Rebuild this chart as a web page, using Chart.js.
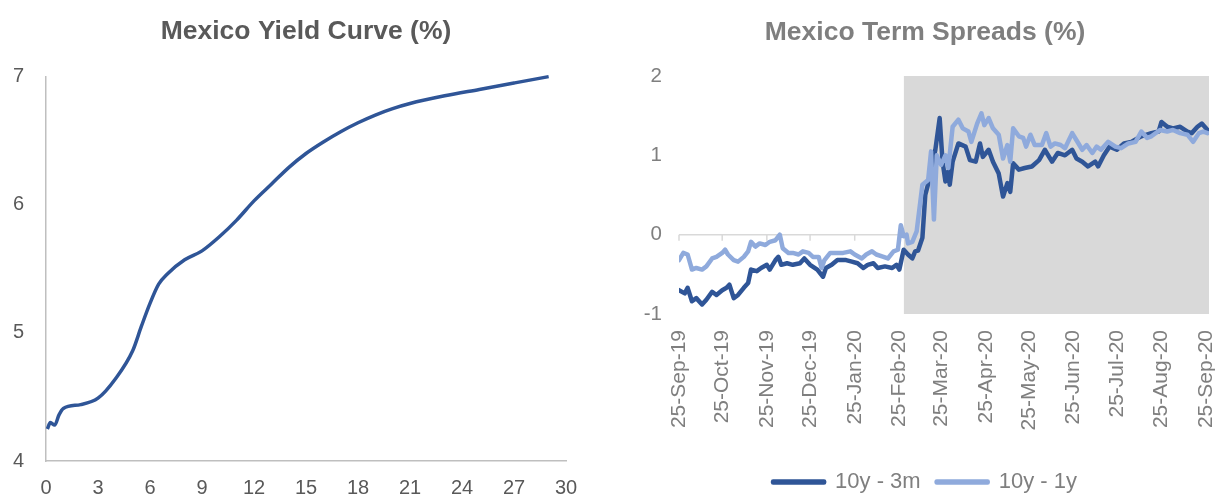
<!DOCTYPE html>
<html><head><meta charset="utf-8">
<script src="https://cdn.jsdelivr.net/npm/chart.js@4.4.1/dist/chart.umd.min.js"></script>
<style>
html,body{margin:0;padding:0;background:#fff;width:1215px;height:497px;overflow:hidden;}
#left{position:absolute;left:0;top:0;width:604px;height:497px;}
#right{position:absolute;left:641px;top:0;width:574px;height:497px;}
canvas{display:block;}
</style></head><body>
<div id="left"><canvas id="c1" width="604" height="497"></canvas></div>
<div id="right"><canvas id="c2" width="574" height="497"></canvas></div>
<script>
// ---- Left chart: Mexico yield curve ----
const tenors = [0.08,0.25,0.5,0.75,1,2,3,4,5,5.5,6,6.5,7,8,9,10,11,12,13,14,15,16,17,18,19,20,21,23,25,27,29];
const yields = [4.25,4.30,4.28,4.36,4.41,4.44,4.49,4.64,4.86,5.05,5.23,5.38,5.46,5.57,5.64,5.75,5.88,6.03,6.16,6.29,6.40,6.49,6.57,6.64,6.70,6.75,6.79,6.85,6.90,6.95,7.00];

// ---- Right chart: term spreads (x = days since 25-Sep-19) ----
const tickDays = [0,30,61,91,122,153,182,213,243,274,304,335,366];
const tickLabels = ['25-Sep-19','25-Oct-19','25-Nov-19','25-Dec-19','25-Jan-20','25-Feb-20','25-Mar-20','25-Apr-20','25-May-20','25-Jun-20','25-Jul-20','25-Aug-20','25-Sep-20'];

const spread3mDays = [0,4,6,9,12,16,19,23,26,30,33,35,38,41,45,48,50,54,57,61,63,67,69,71,75,79,84,87,91,96,100,102,106,110,113,116,120,124,128,131,135,138,143,148,151,153,156,159,162,164,166,169,171,174,178,181,183,185,187,188,190,194,199,202,206,209,211,215,218,222,225,228,230,232,236,240,245,250,254,259,263,268,273,276,280,284,289,291,295,299,304,309,314,321,328,333,335,339,343,348,353,356,360,363,367];
const spread3m = [-0.70,-0.74,-0.67,-0.84,-0.80,-0.88,-0.82,-0.72,-0.76,-0.70,-0.67,-0.63,-0.80,-0.76,-0.67,-0.61,-0.44,-0.46,-0.42,-0.38,-0.44,-0.32,-0.28,-0.38,-0.36,-0.38,-0.36,-0.30,-0.38,-0.44,-0.53,-0.42,-0.38,-0.32,-0.32,-0.32,-0.34,-0.36,-0.42,-0.38,-0.36,-0.42,-0.40,-0.42,-0.38,-0.44,-0.19,-0.25,-0.30,-0.21,-0.20,-0.04,0.50,0.71,1.07,1.47,0.92,0.67,0.80,0.63,0.92,1.15,1.11,0.94,0.92,1.15,0.98,1.07,0.92,0.77,0.48,0.65,0.54,0.90,0.82,0.84,0.86,0.94,1.07,0.92,1.03,1.00,1.07,0.96,0.92,0.86,0.92,0.86,1.00,1.11,1.07,1.15,1.17,1.24,1.28,1.30,1.42,1.36,1.34,1.36,1.30,1.28,1.36,1.40,1.32];

const spread1yDays = [0,3,6,9,12,16,19,23,26,30,32,34,38,41,45,48,50,53,56,60,63,67,70,72,76,79,83,86,90,93,97,99,101,105,110,114,119,122,127,130,134,137,142,145,149,152,154,156,158,159,162,165,169,173,175,177,179,182,185,187,190,194,197,201,203,207,210,212,215,218,222,225,228,230,232,236,239,241,244,247,252,255,258,261,265,268,273,276,280,283,287,290,293,298,303,307,312,317,321,325,328,334,339,343,348,353,357,361,364,367];
const spread1y = [-0.32,-0.23,-0.25,-0.44,-0.42,-0.44,-0.40,-0.30,-0.28,-0.23,-0.19,-0.25,-0.32,-0.34,-0.28,-0.21,-0.09,-0.15,-0.11,-0.13,-0.09,-0.07,0.00,-0.17,-0.23,-0.23,-0.25,-0.21,-0.23,-0.28,-0.28,-0.42,-0.32,-0.23,-0.23,-0.23,-0.21,-0.25,-0.30,-0.25,-0.21,-0.25,-0.28,-0.30,-0.21,-0.19,0.12,-0.02,0.00,-0.11,-0.09,0.04,0.63,0.69,1.05,0.19,1.00,0.88,1.00,0.84,1.36,1.45,1.34,1.30,1.17,1.40,1.53,1.38,1.47,1.34,1.26,0.96,1.13,0.92,1.34,1.24,1.22,1.11,1.26,1.13,1.13,1.28,1.11,1.15,1.13,1.09,1.28,1.19,1.07,1.13,1.03,1.11,1.07,1.17,1.11,1.09,1.15,1.17,1.30,1.22,1.24,1.32,1.30,1.32,1.28,1.26,1.17,1.28,1.30,1.28];

const shadeDays = [156, 368];
const shadeTop = 2;
const shadeBottom = -1;

const FONT = "'Liberation Sans', Arial, sans-serif";
Chart.defaults.font.family = FONT;

const pts = (xs, ys) => xs.map((x, i) => ({x: x, y: ys[i]}));

new Chart(document.getElementById('c1'), {
  type: 'line',
  data: { datasets: [{
    label: 'Yield', data: pts(tenors, yields),
    borderColor: '#2f5597', borderWidth: 3.5, pointRadius: 0,
    cubicInterpolationMode: 'monotone', fill: false, clip: 6
  }]},
  options: {
    responsive: false, animation: false, events: [],
    layout: { padding: { left: 0, right: 38, top: 0, bottom: 0 } },
    plugins: {
      legend: { display: false }, tooltip: { enabled: false },
      title: { display: true, fullSize: false, text: 'Mexico Yield Curve (%)', color: '#595959',
        font: { family: FONT, size: 26.5, weight: 'bold' }, padding: { top: 15.5, bottom: 29.3 } }
    },
    scales: {
      x: { type: 'linear', min: 0, max: 30,
        ticks: { stepSize: 3, color: '#595959', font: { size: 20 }, padding: 15, maxRotation: 0 },
        grid: { display: false, drawTicks: false },
        border: { display: true, color: '#bfbfbf', width: 1.5 },
        afterFit: s => { s.height = 36; s.paddingLeft = 0; s.paddingRight = 0; } },
      y: { min: 4, max: 7,
        ticks: { stepSize: 1, color: '#595959', font: { size: 20 }, padding: 22 },
        grid: { display: false, drawTicks: false },
        border: { display: true, color: '#bfbfbf', width: 1.5 },
        afterFit: s => { s.width = 46; s.paddingTop = 0; s.paddingBottom = 0; } }
    }
  }
});

const zeroTicks = {
  id: 'zeroTicks',
  beforeLayout(chart) {
    const lg = chart.legend;
    if (lg && !lg._fixedFit) {
      const origFit = lg.fit.bind(lg);
      lg.fit = function () { origFit(); this.height = 42; };
      lg._fixedFit = true;
    }
  },
  beforeDatasetsDraw(chart) {
    const ctx = chart.ctx, xs = chart.scales.x, ys = chart.scales.y;
    const y0 = ys.getPixelForValue(0);
    ctx.save();
    ctx.strokeStyle = '#d9d9d9'; ctx.lineWidth = 1.5;
    xs.ticks.forEach(t => {
      const px = xs.getPixelForValue(t.value);
      ctx.beginPath(); ctx.moveTo(px, y0); ctx.lineTo(px, y0 + 6); ctx.stroke();
    });
    ctx.restore();
  }
};

new Chart(document.getElementById('c2'), {
  type: 'line',
  data: { datasets: [
    { label: '10y - 3m', data: pts(spread3mDays, spread3m), borderColor: '#2f5597', backgroundColor: '#2f5597',
      borderWidth: 4.5, pointRadius: 0, tension: 0, borderJoinStyle: 'round', borderCapStyle: 'round', fill: false, order: 1 },
    { label: '10y - 1y', data: pts(spread1yDays, spread1y), borderColor: '#8faadc', backgroundColor: '#8faadc',
      borderWidth: 4.5, pointRadius: 0, tension: 0, borderJoinStyle: 'round', borderCapStyle: 'round', fill: false, order: 0 },
    { label: 'shade', data: pts(shadeDays, [shadeTop, shadeTop]), borderWidth: 0, borderColor: 'rgba(0,0,0,0)',
      backgroundColor: '#d9d9d9', pointRadius: 0, fill: { value: shadeBottom }, order: 2 }
  ]},
  options: {
    responsive: false, animation: false, events: [],
    layout: { padding: { left: 0, right: 6, top: 0, bottom: 0 } },
    plugins: {
      tooltip: { enabled: false },
      title: { display: true, text: 'Mexico Term Spreads (%)', color: '#7f7f7f',
        font: { family: FONT, size: 26.5, weight: 'bold' }, padding: { top: 16.5, bottom: 27.7 } },
      legend: { position: 'bottom',
        labels: { boxWidth: 51, boxHeight: 1, padding: 16, color: '#7f7f7f', font: { size: 22 },
          sort: (a, b) => a.datasetIndex - b.datasetIndex,
          filter: item => item.datasetIndex < 2 } }
    },
    scales: {
      x: { type: 'linear', min: 0, max: 368,
        afterBuildTicks: s => { s.ticks = tickDays.map(v => ({ value: v })); },
        ticks: { autoSkip: false, minRotation: 90, maxRotation: 90, padding: 16, color: '#7f7f7f', font: { size: 21 },
          callback: v => tickLabels[tickDays.indexOf(v)] },
        grid: { display: false, drawTicks: false },
        border: { display: false },
        afterFit: s => { s.height = 141; s.paddingLeft = 0; s.paddingRight = 0; } },
      y: { min: -1, max: 2,
        ticks: { stepSize: 1, color: '#7f7f7f', font: { size: 20.5 }, padding: 17 },
        grid: { drawTicks: false, lineWidth: 1.5,
          color: c => (c.tick && c.tick.value === 0) ? '#d9d9d9' : 'rgba(0,0,0,0)' },
        border: { display: false },
        afterFit: s => { s.width = 38; s.paddingTop = 0; s.paddingBottom = 0; } }
    }
  },
  plugins: [zeroTicks]
});
</script>
</body></html>
